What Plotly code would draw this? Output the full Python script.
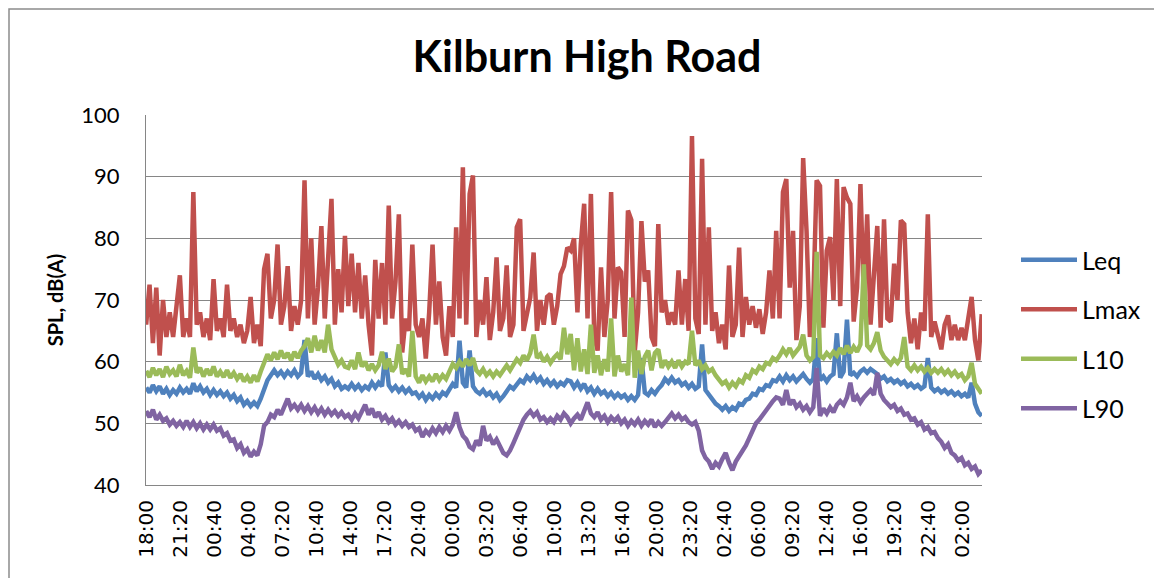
import pandas as pd
import plotly.graph_objects as go

start = "2012-06-01 18:00"

tick_labels = ["18:00", "21:20", "00:40", "04:00", "07:20", "10:40", "14:00", "17:20",
               "20:40", "00:00", "03:20", "06:40", "10:00", "13:20", "16:40", "20:00",
               "23:20", "02:40", "06:00", "09:20", "12:40", "16:00", "19:20", "22:40", "02:00"]

leq = [
    55.8, 55.0, 56.2, 55.2, 56.0, 54.8, 55.6, 54.6, 55.4, 54.8,
    55.8, 55.0, 55.6, 54.8, 56.5, 55.2, 56.0, 55.0, 55.6, 54.6,
    55.4, 54.6, 55.2, 54.4, 55.0, 54.0, 54.6, 53.6, 54.2, 53.0,
    53.6, 52.8, 53.4, 52.8, 54.0, 55.6, 57.0, 57.8, 58.6, 57.8,
    58.4, 57.6, 58.4, 57.8, 58.6, 57.6, 58.2, 63.5, 57.6, 58.4,
    57.2, 58.0, 57.0, 57.6, 56.6, 57.2, 56.0, 56.6, 55.6, 56.0,
    55.6, 56.4, 55.6, 56.2, 55.4, 56.0, 55.6, 56.6, 55.8, 56.6,
    56.0, 61.5, 56.2, 55.4, 56.0, 55.2, 55.8, 55.0, 55.6, 54.8,
    55.0, 54.2, 54.8, 53.8, 54.6, 54.0, 54.8, 54.2, 55.0, 54.6,
    55.6, 56.4, 55.8, 63.4, 56.6, 55.8, 61.8, 56.0, 55.2, 54.8,
    55.4, 54.6, 55.0, 54.2, 54.8, 53.8, 54.4, 55.2, 56.0, 55.6,
    56.4, 57.0, 56.6, 57.6, 57.0, 57.8, 56.8, 57.4, 56.4, 57.0,
    56.2, 56.8, 56.0, 56.6, 56.2, 57.0,
    56.8, 55.8, 56.6, 55.6, 56.4, 55.2, 55.8, 54.8, 55.6, 54.8,
    55.2, 54.4, 55.0, 54.2, 54.8, 54.2, 54.6, 53.8, 54.4, 53.8,
    54.6, 60.6, 55.0, 54.6, 55.4, 54.8, 55.6, 56.2, 57.2, 56.6,
    57.4, 56.6, 57.0, 56.2, 56.6, 55.8, 56.4, 55.6, 56.0, 62.8,
    55.4, 54.6, 54.0, 53.2, 52.8, 52.2, 52.8, 52.0, 52.6, 52.2,
    53.2, 53.0, 53.8, 54.0, 54.8, 54.6, 55.6, 55.4, 56.2, 56.0,
    57.0, 56.8,
    57.6, 56.8, 57.8, 57.0, 57.6, 56.8, 57.4, 58.0, 57.2, 56.6,
    57.2, 63.8, 57.0, 57.6, 56.8, 57.6, 58.0, 64.6, 57.4, 58.4,
    66.8, 57.8, 58.2, 57.6, 58.4, 58.8, 58.2, 58.8, 58.4, 58.0,
    57.2, 57.6, 56.8, 57.2, 56.6, 57.0, 56.4, 56.8, 56.0, 56.4,
    55.8, 56.2, 55.6, 56.0, 60.6, 55.8, 55.2, 55.6, 55.0, 55.4,
    54.8, 55.2, 54.6, 55.0, 54.4, 54.8, 54.2, 56.6, 53.2, 51.8,
    51.2,
]

lmax = [
    66, 72.5, 63, 72, 61, 70, 64, 68, 64, 69,
    74, 64, 67, 64, 87.5, 66, 68, 64, 67, 63.5,
    73.4, 65, 67, 64, 72.5, 65, 67, 64, 66, 63,
    65, 70.5, 63, 66, 62.5, 75, 77.5, 67, 70, 79,
    66, 69, 75.5, 65, 69, 66, 70, 89.4, 67, 80,
    66, 72, 82, 67, 78, 86.4, 66, 75, 68, 80.4,
    69, 77.5, 68, 76, 67, 74, 66, 61, 76.5, 67,
    76, 66, 85.3, 67, 73, 83.9, 61.5, 67, 65, 79,
    66, 64, 67, 60.5, 68, 79, 66, 73, 64, 61,
    69, 64, 81.8, 67, 91.5, 66, 87.2, 90.2, 64, 70,
    66, 73.7, 63.5, 68, 76.9, 65, 67, 75.6, 64, 66,
    81.8, 83.1, 65, 68, 70.4, 77.7, 65, 70, 66, 70.5,
    71, 66, 69, 74.2, 75.5, 78.5,
    78, 80, 68, 79, 85.6, 67, 87.2, 64, 61.8, 75.3,
    64, 70, 87.5, 67, 75.3, 74.5, 64, 84.5, 83, 61.5,
    68, 82.8, 73, 74.8, 64, 62.5, 82.3, 68, 70, 66,
    68, 66, 74.8, 66, 73.4, 65, 96.6, 67, 64.5, 92.9,
    66, 81.8, 65, 68, 63, 66, 62, 75.6, 64, 66,
    78.5, 64, 70.5, 66, 69, 65.5, 68.5, 64.5, 68, 74.8,
    67, 81.2,
    67, 87.5, 89.6, 72, 81.2, 63.5, 69, 93, 81.2, 64,
    70, 89.4, 88.5, 65.5, 78, 80.2, 70, 89.6, 69, 88.3,
    86.6, 85.6, 66.5, 72, 88.8, 70, 83.9, 66, 74, 82,
    65.5, 83.1, 67, 66.5, 75.9, 70, 82.9, 82.3, 68, 63,
    67, 62, 68, 65, 83.9, 64, 66.5, 64, 62, 66,
    67.5, 63.5, 66, 63.5, 65.5, 63.5, 67, 70.5, 63.5, 60.2,
    67.7,
]

l10 = [
    58.5, 57.5, 59, 57.8, 58.8, 57.5, 59.2, 58, 58.6, 57.6,
    59.5, 57.8, 58.5, 57.4, 62.3, 58.2, 59, 57.6, 58.8, 57.8,
    59.2, 57.6, 58.4, 57.5, 58.6, 57.4, 58.2, 57.2, 58, 56.8,
    57.6, 56.6, 57.8, 56.8, 58.4, 59.8, 61.2, 60.2, 61.5, 60.4,
    61.8, 60.6, 61.4, 60.2, 61.6, 60.6, 61.8, 62.5, 63.8, 61.5,
    64.2, 61.8, 63.5, 61.5, 66, 62, 60.5, 59.5, 60.2, 59.2,
    59.0, 60.2, 58.8, 61.5, 59.2, 60.0, 58.6, 59.6, 58.6, 59.4,
    61.6, 58.8, 60.5, 58.4, 59.2, 62.8, 58.0, 58.8, 57.6, 65.0,
    57.6, 56.6, 57.8, 56.8, 57.6, 56.8, 58.0, 57.0, 57.8, 57.2,
    58.4, 59.6, 59.0, 60.0, 59.2, 60.4, 59.4, 60.6, 58.6, 58.0,
    58.8, 57.8, 58.4, 57.6, 58.4, 57.8, 58.6, 59.4, 58.6, 59.6,
    60.4, 59.8, 61.0, 60.2, 61.4, 64.4, 60.6, 61.2, 60.0, 60.8,
    59.8, 60.6, 61.2, 60.4, 65.5, 61.2,
    64.5, 58.6, 63.8, 58.4, 62.0, 58.0, 66.0, 58.2, 61.0, 57.8,
    60.4, 58.4, 67.0, 57.6, 61.0, 58.4, 59.6, 57.8, 70.4, 57.4,
    61.8, 58.0, 60.8, 61.8, 58.6, 61.4, 62.0, 59.0, 60.2, 59.2,
    60.0, 59.0, 60.2, 59.2, 60.0, 59.6, 65.0, 59.4, 60.2, 58.8,
    59.4, 58.4, 58.8, 57.8, 57.2, 56.4, 56.8, 55.8, 56.6, 56.0,
    57.0, 56.6, 57.8, 57.4, 58.6, 58.2, 59.2, 58.8, 59.8, 59.6,
    60.6, 60.2,
    61.0, 62.0, 61.2, 62.2, 61.0, 61.8, 62.4, 64.4, 61.0, 60.2,
    60.8, 77.8, 61.0, 60.6, 61.4, 60.8, 61.6, 61.0, 62.2, 61.2,
    62.6, 61.4, 62.4, 61.6, 62.8, 75.8, 62.6, 62.0, 63.0, 64.8,
    61.8, 60.8, 60.2, 59.6, 60.4, 59.8, 60.6, 64.0, 59.2, 58.6,
    59.4, 58.6, 59.2, 58.4, 59.0, 58.2, 58.8, 58.2, 58.8, 58.0,
    58.6, 57.8, 58.4, 57.6, 58.0, 57.0, 57.6, 59.8, 56.4, 55.6,
    54.8,
]

l90 = [
    52.0, 51.0, 52.2, 50.6, 51.4, 50.4, 50.8, 49.8, 50.4, 49.6,
    50.2, 49.4, 50.4, 49.4, 50.2, 49.2, 50.0, 49.0, 49.8, 49.0,
    49.8, 48.8, 49.2, 48.0, 48.4, 47.2, 47.4, 46.0, 46.6, 45.2,
    45.8, 44.6, 45.4, 44.8, 46.6, 49.6, 50.2, 51.4, 51.0, 52.2,
    51.4, 52.6, 54.0, 52.4, 53.0, 52.2, 53.0, 52.0, 52.8, 51.8,
    52.6, 51.6, 52.4, 51.4, 52.2, 51.4, 52.0, 51.2, 51.8, 51.0,
    51.4, 50.6, 51.6, 50.8, 52.0, 53.0, 51.4, 52.4, 51.0, 51.8,
    50.6, 51.2, 50.2, 50.8, 49.8, 50.4, 49.6, 50.2, 49.4, 49.8,
    48.8, 49.2, 47.8, 48.8, 48.2, 49.2, 48.4, 49.4, 48.6, 49.6,
    48.8, 49.8, 51.8, 49.4, 48.0, 47.4, 46.2, 45.8, 47.2, 46.4,
    49.6, 47.2, 47.8, 46.6, 47.4, 46.2, 45.2, 44.8, 45.6, 46.8,
    48.2, 49.4, 50.6, 51.4, 52.0, 51.2, 51.8, 50.6, 51.0, 50.2,
    50.8, 50.2, 51.2, 50.6, 51.6, 51.0,
    50.0, 50.8, 51.4, 50.6, 52.0, 53.4, 51.6, 51.0, 51.8, 50.6,
    51.2, 50.2, 51.0, 50.4, 51.0, 50.0, 50.6, 49.6, 50.4, 49.8,
    50.6, 49.6, 50.4, 49.8, 50.6, 49.4, 50.2, 49.6, 50.2, 51.0,
    51.6, 50.8, 51.4, 50.6, 51.0, 50.2, 49.8, 50.2, 48.8, 45.6,
    44.4, 43.8, 42.6, 43.6, 43.0, 44.2, 45.2, 43.6, 42.4, 43.8,
    44.6, 45.4, 46.4, 47.6, 48.8, 50.0, 50.6, 51.4, 52.0, 52.8,
    53.6, 54.2,
    54.0, 53.0, 55.4, 53.0, 53.8, 52.6, 53.2, 52.2, 52.8, 51.8,
    52.6, 59.0, 51.2, 52.4, 51.6, 52.6, 51.8, 53.0, 53.6, 53.0,
    54.2, 56.6, 53.6, 54.4, 53.4, 54.2, 54.8, 55.4, 54.6, 58.2,
    54.8, 53.8, 53.2, 52.6, 53.0, 52.0, 52.4, 51.4, 51.6, 50.6,
    50.8, 49.8, 50.2, 49.0, 49.4, 48.4, 48.6, 47.6, 47.0, 46.0,
    46.6, 45.2, 44.8, 44.0, 44.4, 43.2, 43.6, 42.6, 43.0, 41.8,
    42.4,
]

times = pd.date_range(start, periods=len(leq), freq="1188s")
tick_times = pd.date_range(start, periods=len(tick_labels), freq="200min")

series = [
    ("Leq", leq, "#4F81BD"),
    ("Lmax", lmax, "#C0504D"),
    ("L10", l10, "#9BBB59"),
    ("L90", l90, "#8064A2"),
]

fig = go.Figure()
for name, vals, color in series:
    fig.add_trace(go.Scatter(
        x=times, y=vals, name=name, mode="lines", legendgroup=name,
        line=dict(color=color, width=4.5),
    ))

W, H = 1154, 570
t0 = pd.Timestamp(start)
fig.update_layout(
    width=W, height=H,
    margin=dict(l=138, r=180, t=107, b=93),
    paper_bgcolor="white", plot_bgcolor="white",
    title=dict(text="<b>Kilburn High Road</b>", x=579 / W, xref="container",
               y=1 - 49 / H, yref="container", xanchor="center", yanchor="middle",
               font=dict(family="Lato", size=43, color="#000000")),
    legend=dict(
        x=1008 / W, xref="container", xanchor="left",
        y=(H - 229) / H, yref="container", yanchor="top",
        font=dict(family="Lato", size=25, color="#000000"),
        tracegroupgap=14, itemwidth=56, bgcolor="rgba(0,0,0,0)",
    ),
    showlegend=True,
)
fig.update_xaxes(
    range=[t0 - pd.Timedelta(minutes=1), t0 + pd.Timedelta(minutes=4912)],
    tickmode="array", tickvals=tick_times, ticktext=tick_labels,
    tickangle=-90, tickfont=dict(family="DejaVu Sans", size=20, color="#000000"),
    showgrid=False, showline=True, linecolor="#868686", linewidth=1,
    ticks="", ticklabelstandoff=6, zeroline=False,
)
fig.update_yaxes(
    range=[40, 100], dtick=10, tick0=40,
    tickfont=dict(family="Lato", size=22, color="#000000"),
    showgrid=True, gridcolor="#868686", gridwidth=1,
    showline=True, linecolor="#868686", linewidth=1,
    ticks="", ticklabelstandoff=21, zeroline=False,
    title=dict(text="<b>SPL, dB(A)</b>", standoff=12,
               font=dict(family="Lato", size=20, color="#000000")),
)
# outer chart border
fig.add_shape(type="rect", xref="paper", yref="paper",
              x0=(1 - 138) / 836, x1=(1148 - 138) / 836,
              y0=(477 - 640) / 370, y1=(477 - 1) / 370,
              line=dict(color="#8C8C8C", width=1.5), fillcolor="rgba(0,0,0,0)",
              layer="below")

fig.write_html("out.html")
